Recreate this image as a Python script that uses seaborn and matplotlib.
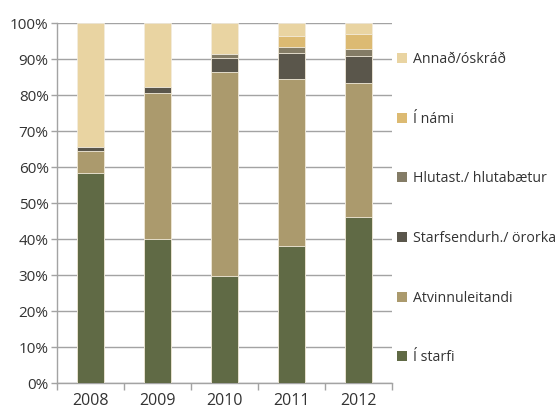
import numpy as np
import pandas as pd
import matplotlib
matplotlib.use("Agg")
import matplotlib.pyplot as plt
import seaborn as sns
from matplotlib.ticker import FixedLocator, PercentFormatter

# Data (percent of group, each year sums to 100)
years = ['2008', '2009', '2010', '2011', '2012']
i_starfi = [58.5, 40.0, 29.7, 38.0, 46.2]
atvinnuleitandi = [6.0, 40.6, 56.7, 46.5, 37.2]
starfsendurh = [1.1, 1.6, 4.0, 7.2, 7.6]
hlutast = [0.0, 0.0, 1.2, 1.8, 1.9]
i_nami = [0.0, 0.0, 0.0, 3.1, 4.2]
annad = [34.4, 17.8, 8.4, 3.4, 2.9]

series_names = ['Í starfi', 'Atvinnuleitandi', 'Starfsendurh./ örorka',
                'Hlutast./ hlutabætur', 'Í námi', 'Annað/óskráð']
series_values = [i_starfi, atvinnuleitandi, starfsendurh, hlutast, i_nami, annad]
colors = ['#606a45', '#ab9a6d', '#5a564b', '#847c66', '#dcba72', '#e9d4a2']

df = pd.DataFrame(dict(zip(series_names, series_values)), index=years)
cum = df.cumsum(axis=1)

sns.set_style("white")
plt.rcParams['font.family'] = ['Open Sans', 'DejaVu Sans']

fig = plt.figure(figsize=(5.57, 4.11), dpi=100)
ax = fig.add_axes([57 / 557, 28 / 411, 335 / 557, (383 - 23.3) / 411])

# stacked bars: draw cumulative totals from the top series down
for name, col in reversed(list(zip(series_names, colors))):
    sns.barplot(x=years, y=cum[name].values, color=col, saturation=1, width=0.4,
                edgecolor='#f3ecdc', linewidth=0.6, label=name, ax=ax, zorder=3)

ax.set_ylim(0, 100)
ax.set_xlim(-0.5, 4.5)
ax.yaxis.set_major_locator(FixedLocator(np.arange(0, 101, 10)))
ax.yaxis.set_major_formatter(PercentFormatter(decimals=0))
ax.grid(axis='y', color='#a3a3a3', linewidth=1.0, zorder=0)
ax.set_axisbelow(True)

for side in ['top', 'right']:
    ax.spines[side].set_visible(False)
for side in ['left', 'bottom']:
    ax.spines[side].set_color('#a3a3a3')
    ax.spines[side].set_linewidth(1.0)

ax.tick_params(axis='y', which='major', direction='out', length=4, width=1,
               color='#a3a3a3', labelsize=11, labelcolor='#333333', pad=2, left=True)
ax.tick_params(axis='x', which='major', length=0, labelsize=11.5,
               labelcolor='#333333', pad=7)
ax.xaxis.set_minor_locator(FixedLocator(np.arange(-0.5, 4.6, 1)))
ax.tick_params(axis='x', which='minor', direction='out', length=5, width=1,
               color='#a3a3a3', bottom=True)
ax.set_xlabel('')
ax.set_ylabel('')

handles, labels = ax.get_legend_handles_labels()
leg = ax.legend(handles, labels, loc='upper left',
                bbox_to_anchor=(397 / 557, 1 - 52 / 411),
                bbox_transform=fig.transFigure, frameon=False,
                fontsize=10.2, labelspacing=3.15, handlelength=0.7,
                handleheight=0.7, handletextpad=0.4, borderpad=0,
                borderaxespad=0)
for t in leg.get_texts():
    t.set_color('#333333')
for h in leg.legend_handles:
    h.set_edgecolor('none')

fig.savefig('out.png', dpi=100)
